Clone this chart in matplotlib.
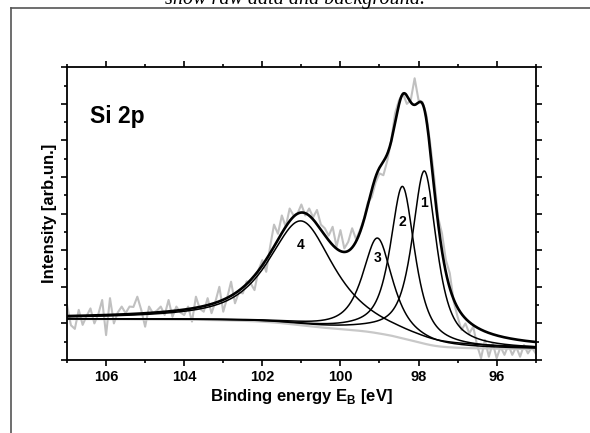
import numpy as np
import matplotlib.pyplot as plt
from matplotlib.ticker import MultipleLocator
from matplotlib.lines import Line2D

plt.rcParams['font.family'] = ['Liberation Sans', 'DejaVu Sans']
plt.rcParams['mathtext.fontset'] = 'custom'
plt.rcParams['mathtext.bf'] = 'Liberation Sans:bold'
plt.rcParams['mathtext.rm'] = 'Liberation Sans'

# Raw spectrum, 0.1 eV steps from 107 eV down to 95 eV
raw_start, raw_step = 107.0, -0.1
raw_counts = [
    1.50, 0.95, 0.85, 1.37, 0.96, 1.20, 1.41, 1.00, 1.25, 1.64,   # 107.0 - 106.1
    0.68, 1.69, 1.00, 1.30, 1.46, 1.28, 1.46, 1.45, 1.73, 1.37,   # 106.0 - 105.1
    0.91, 1.46, 1.28, 1.35, 1.46, 1.23, 1.64, 1.18, 1.46, 1.30,   # 105.0 - 104.1
    1.23, 1.46, 1.05, 1.73, 1.40, 1.32, 1.69, 1.28, 1.60, 2.00,   # 104.0 - 103.1
    1.32, 1.70, 2.14, 1.55, 1.85, 1.82, 2.15, 2.10, 1.91, 2.45,   # 103.0 - 102.1
    2.73, 2.41, 3.10, 3.70, 3.45, 3.95, 3.64, 4.14, 3.95, 4.00,   # 102.0 - 101.1
    4.25, 3.95, 4.14, 3.90, 4.10, 3.70, 3.60, 3.40, 3.64, 3.10,   # 101.0 - 100.1
    3.55, 3.05, 3.23, 3.60, 3.30, 3.55, 3.85, 4.30, 4.45, 4.85,   # 100.0 - 99.1
    5.10, 5.05, 5.45, 6.00, 6.75, 7.10, 7.29, 7.00, 7.10, 7.70,   # 99.0 - 98.1
    7.10, 7.05, 6.70, 5.90, 5.00, 3.90, 3.46, 2.73, 2.37, 1.60,   # 98.0 - 97.1
    1.18, 0.82, 1.00, 0.73, 0.91, 0.40, 0.05, 0.55, 0.09, 0.46,   # 97.0 - 96.1
    0.05, 0.36, 0.14, 0.41, 0.14, 0.36, 0.09, 0.41, 0.18, 0.35,   # 96.0 - 95.1
    0.18,                                                         # 95.0
]

# Fitted components
peak_labels = ["1", "2", "3", "4"]
peak_pos = [97.85, 98.41, 99.05, 101.0]     # eV
peak_height = [4.72, 4.15, 2.6, 2.85]       # arb. units above background
peak_fwhm = [0.75, 0.75, 0.92, 2.0]         # eV
lorentz_frac = [0.8, 0.8, 0.8, 0.8]
label_xy = [(97.85, 4.3), (98.41, 3.78), (99.05, 2.78), (101.03, 3.15)]

# Shirley background end levels
bg_high = 1.12   # at 107 eV
bg_low = 0.30    # at 95 eV

energy = np.linspace(95, 107, 1201)


def pseudo_voigt(x, x0, h, fwhm, eta):
    r = (x - x0) / (fwhm / 2)
    return h * (eta / (1 + r ** 2) + (1 - eta) * np.exp(-np.log(2) * r ** 2))


peaks = [pseudo_voigt(energy, p, h, w, e)
         for p, h, w, e in zip(peak_pos, peak_height, peak_fwhm, lorentz_frac)]
total = np.sum(peaks, axis=0)
cum = np.concatenate([[0], np.cumsum((total[1:] + total[:-1]) / 2 * np.diff(energy))])
background = bg_low + (bg_high - bg_low) * cum / cum[-1]
envelope = background + total

raw_energy = raw_start + raw_step * np.arange(len(raw_counts))

fig = plt.figure(figsize=(5.9, 4.33), dpi=100)
ax = fig.add_axes([0.1136, 0.1686, 0.7944, 0.676])

ax.plot(raw_energy, raw_counts, color='#c0c0c0', lw=1.5)
ax.plot(energy, background, color='#c8c8c8', lw=1.6)
for pk in peaks:
    ax.plot(energy, background + pk, color='black', lw=1.1)
ax.plot(energy, envelope, color='black', lw=1.9)

for lab, (lx, ly) in zip(peak_labels, label_xy):
    ax.text(lx, ly, lab, ha='center', va='center', fontsize=10, fontweight='bold')

ax.text(0.05, 0.81, "Si 2p", transform=ax.transAxes, fontsize=16.5, fontweight='bold')

ax.set_xlim(107, 95)
ax.set_ylim(0, 8)
ax.xaxis.set_major_locator(MultipleLocator(2))
ax.xaxis.set_minor_locator(MultipleLocator(1))
ax.yaxis.set_major_locator(MultipleLocator(1))
ax.yaxis.set_minor_locator(MultipleLocator(0.5))
ax.tick_params(which='both', direction='out', top=True, right=True, width=1.2,
               labelleft=False, labelsize=10.5, pad=3)
ax.tick_params(which='major', length=4.3)
ax.tick_params(which='minor', length=2.4)
for lab in ax.get_xticklabels():
    lab.set_fontweight('bold')
for s in ax.spines.values():
    s.set_linewidth(1.3)

ax.set_xlabel(r"Binding energy E$_{\mathbf{B}}$ [eV]", fontsize=12, fontweight='bold', labelpad=2)
ax.set_ylabel("Intensity [arb.un.]", fontsize=12, fontweight='bold', labelpad=3)

# outer frame and clipped caption
fig.add_artist(Line2D([11 / 590, 11 / 590], [0, 1 - 8.3 / 433], color='#555555', lw=1.2))
fig.add_artist(Line2D([11 / 590, 1], [1 - 8.3 / 433, 1 - 8.3 / 433], color='#555555', lw=1.2))
fig.text(0.5, 1 - 4 / 433, "show raw data and background.", ha='center', va='baseline',
         fontsize=14.5, fontstyle='italic', family=['Liberation Serif', 'DejaVu Serif'])

fig.savefig("out.png", dpi=100)
